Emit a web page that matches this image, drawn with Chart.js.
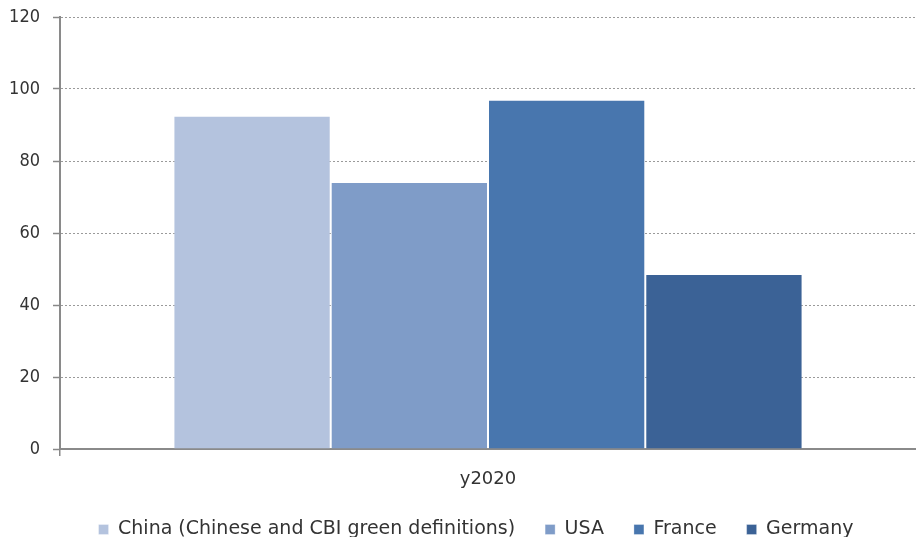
<!DOCTYPE html>
<html>
<head>
<meta charset="utf-8">
<script src="https://cdn.jsdelivr.net/npm/chart.js@4/dist/chart.umd.min.js"></script>
<style>
  html, body { margin: 0; padding: 0; background: #fff; }
  #wrap { width: 916px; height: 545px; position: relative; }
</style>
</head>
<body>
<div id="wrap"><canvas id="c"></canvas></div>
<script>
// Categories and series
const categories = ['y2020'];
const seriesNames = ['China (Chinese and CBI green definitions)', 'USA', 'France', 'Germany'];
const chinaValues = [92.6];
const usaValues = [74.2];
const franceValues = [97.0];
const germanyValues = [48.6];
const yTicks = [0, 20, 40, 60, 80, 100, 120];

const seriesValues = [chinaValues, usaValues, franceValues, germanyValues];
const seriesColors = ['#b4c3de', '#7f9cc8', '#4876ae', '#3b6296'];

const LEGEND_FONT = "'DejaVu Sans', sans-serif";
const TICK_FONT = "'DejaVu Sans Condensed', 'DejaVu Sans', sans-serif";

// Nudge the legend block after layout (dx, dy in pixels)
const legendOffset = {
  id: 'legendOffset',
  afterLayout(chart, args, opts) {
    const lg = chart.legend;
    if (!lg) return;
    lg.left += opts.dx || 0;
    lg.right += opts.dx || 0;
    lg.top += opts.dy || 0;
    lg.bottom += opts.dy || 0;
  }
};

new Chart(document.getElementById('c'), {
  type: 'bar',
  data: {
    labels: categories,
    datasets: seriesNames.map((name, i) => ({
      label: name,
      data: seriesValues[i],
      backgroundColor: seriesColors[i],
      borderColor: 'rgba(255,255,255,0.3)',
      borderWidth: 1,
      barPercentage: 1,
      categoryPercentage: 0.735
    }))
  },
  plugins: [legendOffset],
  options: {
    responsive: true,
    maintainAspectRatio: false,
    animation: false,
    layout: { padding: { top: 17, right: 0, left: 0, bottom: 4 } },
    plugins: {
      tooltip: { enabled: false },
      legendOffset: { dx: 18, dy: -4 },
      legend: {
        position: 'bottom',
        maxHeight: 47,
        labels: {
          boxWidth: 10,
          boxHeight: 10,
          padding: 30,
          color: '#333',
          font: { family: LEGEND_FONT, size: 19 }
        }
      }
    },
    scales: {
      x: {
        grid: {
          display: true,
          drawOnChartArea: false,
          drawTicks: true,
          tickLength: 7,
          // tick mark only where the axis meets the y axis
          color: (ctx) => (ctx.index === 0 ? '#888' : 'rgba(0,0,0,0)'),
          lineWidth: 1.5
        },
        border: { display: true, color: '#8a8a8a', width: 2 },
        ticks: {
          color: '#333',
          padding: 13,
          font: { family: LEGEND_FONT, size: 18 }
        },
        afterFit: (s) => { s.height = 45; }
      },
      y: {
        min: 0,
        max: 120,
        afterBuildTicks: (s) => { s.ticks = yTicks.map(v => ({ value: v })); },
        grid: {
          color: '#9a9a9a',
          lineWidth: 1,
          tickLength: 7,
          tickColor: '#888',
          tickWidth: 1.5,
          tickBorderDash: []
        },
        border: { display: true, color: '#8a8a8a', width: 2, dash: [2, 2] },
        ticks: {
          color: '#333',
          padding: 13,
          font: { family: TICK_FONT, size: 18 }
        },
        afterFit: (s) => { s.width = 60; s.paddingTop = 0; s.paddingBottom = 0; }
      }
    }
  }
});
</script>
</body>
</html>
